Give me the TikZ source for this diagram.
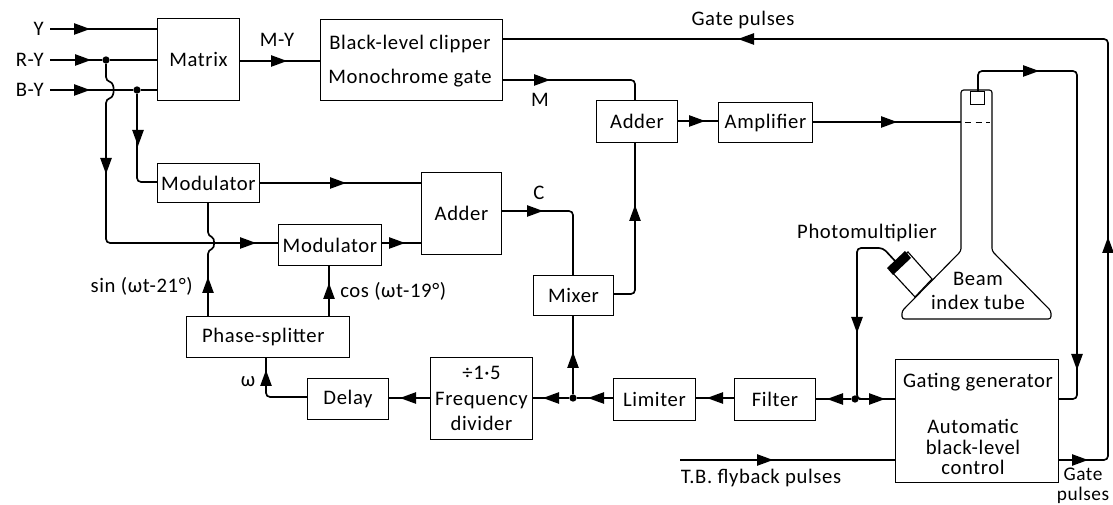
\documentclass[tikz,border=0pt]{standalone}
\usepackage{fontspec}
\setmainfont[LetterSpace=3]{Carlito}
\usetikzlibrary{calc}
\tikzset{
  x=0.75pt,y=-0.75pt,
  box/.style={draw,line width=0.75pt,inner sep=0pt,align=center,font=\fontsize{15.5}{19}\selectfont},
  lab/.style={inner sep=0pt,align=center,font=\fontsize{15.5}{15.5}\selectfont},
  wire/.style={line width=1.25pt,rounded corners=3pt},
  dot/.style={circle,fill=black,inner sep=0pt,minimum size=5.5pt},
}
\newcommand{\bx}[6]{\node[box,minimum width=#4*0.75pt-#2*0.75pt,minimum height=#5*0.75pt-#3*0.75pt,anchor=north west] (#1) at (#2,#3) {#6};}
% tip at (x,y), pointing in direction angle (screen, counter-clockwise)
\newcommand{\tip}[3]{\fill[shift={(#1,#2)},rotate=#3] (0pt,0pt) -- (-12pt,4.4pt) -- (-12pt,-4.4pt) -- cycle;}
\begin{document}
\begin{tikzpicture}
\useasboundingbox (0,0) rectangle (1113,505);
\bx{matrix}{157}{18}{239}{100}{Matrix}
\bx{clip}{320}{19}{502}{100}{}
\node[lab] (cliptext) at (410,44) {Black-level clipper};
\node[lab] (monotext) at (410,78) {Monochrome gate};
\bx{addA}{596}{100}{677}{142}{Adder}
\bx{amp}{718}{102}{812}{142}{Amplifier}
\bx{modA}{157}{163}{259}{202}{Modulator}
\bx{modB}{278}{224}{381}{265}{Modulator}
\bx{addB}{421}{172}{501}{254}{Adder}
\bx{mixer}{533}{275}{613}{315}{Mixer}
\bx{phase}{186}{316}{349}{357}{Phase-splitter\kern7pt}
\bx{delay}{307}{378}{388}{419}{Delay}
\bx{freq}{430}{357}{532}{439}{÷1·5\\Frequency\\divider}
\bx{lim}{613}{378}{695}{420}{Limiter}
\bx{filter}{734}{378}{815}{420}{Filter}
\bx{gating}{895}{359}{1058}{482}{}
\node[lab] (gtext) at (978,382) {Gating generator};
\node[lab] (atext) at (973,447) {Automatic\\black-level\\control};
% inputs
\node[lab,anchor=east] (y) at (44,29) {Y};
\node[lab,anchor=east] (ry) at (44,60) {R-Y};
\node[lab,anchor=east] (by) at (44,90) {B-Y};
\coordinate (yy) at (50,29); \coordinate (ryy) at (50,60); \coordinate (byy) at (50,90);
\node[dot] (d1) at (106,60) {};
\node[dot] (d2) at (137,90) {};
\draw[wire] (yy) -- (yy-|matrix.west); \tip{90}{29}{0}
\draw[wire] (ryy) -- (d1); \tip{91}{60}{0}
\draw[wire] (d1) -- (ryy-|matrix.west);
\draw[wire] (byy) -- (d2); \tip{90}{90}{0}
\draw[wire] (d2) -- (byy-|matrix.west);
\draw[wire] (d1) -- (106,81) .. controls (115,83) and (115,97) .. (106,99) -- (106,243) -- (modB.west|-106,243);
\tip{106}{174}{-90} \tip{256}{243}{0}
\draw[wire] (d2) -- (137,182) -- (modA.west|-137,182); \tip{138}{146}{-90}
\draw[wire] (matrix.east|-0,61) -- (clip.west|-0,61); \tip{287}{61}{0}
\draw[wire] (modA.east|-0,183) -- (addB.west|-0,183); \tip{346}{183}{0}
\draw[wire] (modB.east|-0,243) -- (addB.west|-0,243); \tip{405}{243}{0}
\draw[wire] (phase.north-|208,0) -- (208,250) .. controls (215,248) and (215,238) .. (208,236) -- (modA.south-|208,0);
\tip{208}{277}{90}
\draw[wire] (phase.north-|329,0) -- (modB.south-|329,0); \tip{329}{283}{90}
\draw[wire] (delay.west|-0,397) -- (266,397) -- (phase.south-|266,0); \tip{266}{370}{90}
\draw[wire] (freq.west|-0,398) -- (delay.east|-0,398); \tip{400}{398}{180}
\node[dot] (d3) at (573,398) {};
\draw[wire] (d3) -- (freq.east|-d3); \tip{543}{398}{180}
\draw[wire] (lim.west|-d3) -- (d3); \tip{588}{398}{180}
\draw[wire] (d3) -- (mixer.south-|d3); \tip{573}{352}{90}
\draw[wire] (filter.west|-d3) -- (lim.east|-d3); \tip{707}{398}{180}
\node[dot] (d4) at (855,399) {};
\draw[wire] (d4) -- (filter.east|-d4); \tip{827}{399}{180}
\draw[wire] (d4) -- (gating.west|-d4); \tip{885}{399}{0}
\draw[wire] (addB.east|-0,211) -- (573,211) -- (mixer.north-|573,0); \tip{543}{211}{0}
\draw[wire] (mixer.east|-0,294) -- (635,294) -- (addA.south-|635,0); \tip{635}{205}{90}
\draw[wire] (clip.east|-0,80) -- (635,80) -- (addA.north-|635,0); \tip{550}{80}{0}
\draw[wire] (addA.east|-0,121) -- (amp.west|-0,121); \tip{705}{121}{0}
% tube
\coordinate (nl) at (961,251); \coordinate (nr) at (992,251);
\coordinate (tl) at (961,90); \coordinate (tr) at (992,90);
\draw[line width=0.85pt,rounded corners=2pt] (nl) -- (tl) -- (tr) -- (nr) -- (1051,311) -- (1051,319) -- (902,319) -- (902,311) -- cycle;
\node[draw,line width=0.75pt,inner sep=0pt,minimum width=10.5pt,minimum height=10pt,anchor=north] (gun) at (977,91) {};
\draw[line width=0.6pt,dash pattern=on 4.5pt off 3.5pt] (965,122) -- (990,122);
\node[lab] (beam) at (978,279) {Beam};
\node[lab] (idx) at (978,302) {index tube};
\draw[wire] (amp.east|-0,122) -- (nl|-0,122); \tip{897}{122}{0}
\draw[wire] (gun.north-|978,0) -- (978,71) -- (1077,71) -- (1077,399) -- (gating.east|-0,399);
\tip{1039}{71}{0} \tip{1077}{370}{-90}
% photomultiplier
\coordinate (pa) at (908,252); \coordinate (pb) at (932,279); \coordinate (pc) at (915,297); \coordinate (pd) at (890,270);
\draw[line width=0.85pt] (pa) -- (pb) -- (pc) -- (pd) -- cycle;
\fill (887,268) -- (905,251) -- (911,258) -- (893,275) -- cycle;
\coordinate (pm) at (896,262);
\draw[wire] (pm) -- (883,248) -- (857,248) -- (857,399) -- (d4); \tip{857}{333}{-90}
\node[lab] (pmt) at (867,233) {Photomultiplier};
% gate pulses
\draw[wire] (gating.east|-0,460) -- (1108,460) -- (1108,39) -- (clip.east|-0,39);
\tip{1088}{460}{0} \tip{1108}{237}{90} \tip{738}{39}{180}
\coordinate (tb) at (680,460);
\draw[wire] (tb) -- (gating.west|-tb); \tip{773}{460}{0}
\node[lab] (gp) at (743,20) {Gate pulses};
\node[lab] (my) at (277,40) {M-Y};
\node[lab] (m) at (540,100) {M};
\node[lab] (c) at (539,193) {C};
\node[lab,anchor=east] (sn) at (193,286) {sin (ωt-21°)};
\node[lab,anchor=west] (cs) at (340,291) {cos (ωt-19°)};
\node[lab] (w) at (248,382) {ω};
\node[lab] (tbt) at (761,478) {T.B. flyback pulses};
\node[inner sep=0pt,align=center,font=\fontsize{14.5}{15}\selectfont] (gt) at (1083,486) {Gate\\pulses};
\end{tikzpicture}
\end{document}
